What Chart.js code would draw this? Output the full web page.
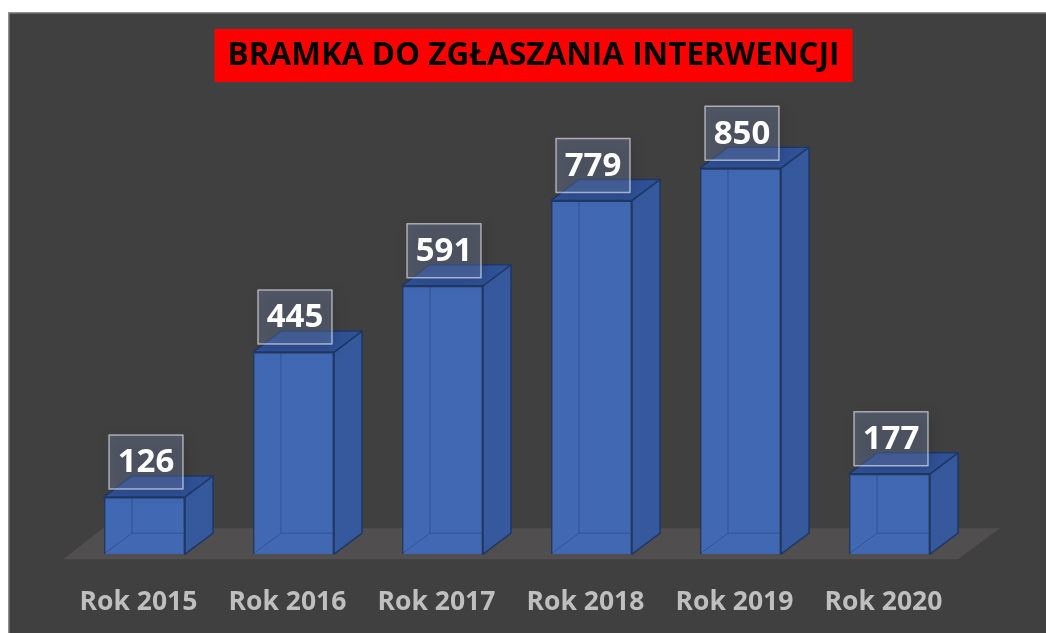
<!DOCTYPE html>
<html>
<head>
<meta charset="utf-8">
<script src="https://cdn.jsdelivr.net/npm/chart.js@4"></script>
<style>
  html, body { margin: 0; padding: 0; background: #ffffff; }
  canvas { display: block; }
</style>
</head>
<body>
<canvas id="chart" width="1046" height="633"></canvas>
<script>
const chartTitle = 'BRAMKA DO ZGŁASZANIA INTERWENCJI';
const years = ['Rok 2015', 'Rok 2016', 'Rok 2017', 'Rok 2018', 'Rok 2019', 'Rok 2020'];
const requests = [126, 445, 591, 779, 850, 177];

const FONT = '"Open Sans", "DejaVu Sans", sans-serif';
const DX = 28, DY = 21; // glebokosc slupkow 3D

const bars3d = {
    id: 'bars3d',
    beforeDraw(chart) {
        const ctx = chart.ctx, w = chart.width, h = chart.height;
        ctx.save();
        ctx.fillStyle = '#ffffff';
        ctx.fillRect(0, 0, w, h);
        ctx.fillStyle = '#404040';
        ctx.fillRect(8, 12, w - 8, h - 12);
        ctx.strokeStyle = '#8e8e8e';
        ctx.lineWidth = 1.5;
        ctx.beginPath();
        ctx.moveTo(8.75, h);
        ctx.lineTo(8.75, 12.75);
        ctx.lineTo(w, 12.75);
        ctx.stroke();

        // tytul na czerwonym tle
        ctx.font = 'bold 31.5px ' + FONT;
        const tw = ctx.measureText(chartTitle).width;
        const cx = 533.5, cy = 55.5;
        ctx.fillStyle = '#ff0000';
        ctx.fillRect(cx - tw / 2 - 13, 29, tw + 26, 53);
        ctx.fillStyle = '#000000';
        ctx.textAlign = 'center';
        ctx.textBaseline = 'middle';
        ctx.fillText(chartTitle, cx, cy + 1);
        ctx.restore();
    },
    beforeDatasetsDraw(chart) {
        // podloga
        const ctx = chart.ctx, a = chart.chartArea;
        ctx.save();
        ctx.fillStyle = '#504e4e';
        ctx.beginPath();
        ctx.moveTo(a.left - 7, a.bottom + 5);
        ctx.lineTo(a.right - 6, a.bottom + 5);
        ctx.lineTo(a.right + 36, a.bottom - 26);
        ctx.lineTo(a.left + 33, a.bottom - 26);
        ctx.closePath();
        ctx.fill();
        ctx.restore();
    },
    afterDatasetsDraw(chart) {
        const ctx = chart.ctx;
        const meta = chart.getDatasetMeta(0);
        ctx.save();
        meta.data.forEach((bar, i) => {
            const p = bar.getProps(['x', 'y', 'base', 'width'], true);
            const l = p.x - p.width / 2, r = p.x + p.width / 2, t = p.y, b = p.base;

            // ukryte krawedzie (przezroczystosc)
            ctx.strokeStyle = 'rgba(30, 56, 110, 0.45)';
            ctx.lineWidth = 1;
            ctx.beginPath();
            ctx.moveTo(l + 1, b - 1);
            ctx.lineTo(l + DX, b - DY);
            ctx.lineTo(r + DX - 1, b - DY);
            ctx.moveTo(l + DX, b - DY);
            ctx.lineTo(l + DX, t - DY);
            ctx.stroke();

            ctx.lineWidth = 1.5;
            ctx.strokeStyle = '#1f3864';
            ctx.lineJoin = 'round';
            // bok
            ctx.fillStyle = '#35599c';
            ctx.beginPath();
            ctx.moveTo(r, t);
            ctx.lineTo(r + DX, t - DY);
            ctx.lineTo(r + DX, b - DY);
            ctx.lineTo(r, b);
            ctx.closePath();
            ctx.fill();
            ctx.stroke();
            // gora
            ctx.fillStyle = '#2f5196';
            ctx.beginPath();
            ctx.moveTo(l, t);
            ctx.lineTo(l + DX, t - DY);
            ctx.lineTo(r + DX, t - DY);
            ctx.lineTo(r, t);
            ctx.closePath();
            ctx.fill();
            ctx.stroke();
        });

        // etykiety wartosci
        meta.data.forEach((bar, i) => {
            const p = bar.getProps(['x', 'y'], true);
            const bw = 74, bh = 54;
            const bx = p.x + 1.5 - bw / 2, by = p.y - 8 - bh;
            ctx.save();
            ctx.shadowColor = 'rgba(0, 0, 0, 0.45)';
            ctx.shadowBlur = 12;
            ctx.shadowOffsetX = 3;
            ctx.shadowOffsetY = 3;
            ctx.fillStyle = 'rgba(120, 140, 185, 0.32)';
            ctx.fillRect(bx, by, bw, bh);
            ctx.restore();
            ctx.strokeStyle = 'rgba(255, 255, 255, 0.55)';
            ctx.lineWidth = 1.5;
            ctx.strokeRect(bx, by, bw, bh);
            ctx.fillStyle = '#ffffff';
            ctx.font = 'bold 33px ' + FONT;
            ctx.textAlign = 'center';
            ctx.textBaseline = 'middle';
            ctx.fillText(String(requests[i]), bx + bw / 2, by + bh / 2 + 1);
        });
        ctx.restore();
    }
};

new Chart(document.getElementById('chart').getContext('2d'), {
    type: 'bar',
    data: {
        labels: years,
        datasets: [{
            data: requests,
            backgroundColor: '#4169b3',
            borderColor: '#1f3864',
            borderWidth: 1.5,
            barPercentage: 0.544,
            categoryPercentage: 1
        }]
    },
    options: {
        responsive: false,
        animation: false,
        layout: { padding: { left: 70, right: 82, top: 100, bottom: -17 } },
        scales: {
            x: {
                grid: { display: false, drawTicks: false },
                border: { display: false },
                ticks: {
                    color: '#bfbfbf',
                    font: { family: FONT, size: 26.5, weight: 'bold' },
                    padding: 32,
                    labelOffset: -6
                }
            },
            y: { display: false, min: 0, max: 1000 }
        },
        plugins: {
            legend: { display: false },
            tooltip: { enabled: false }
        }
    },
    plugins: [bars3d]
});
</script>
</body>
</html>
